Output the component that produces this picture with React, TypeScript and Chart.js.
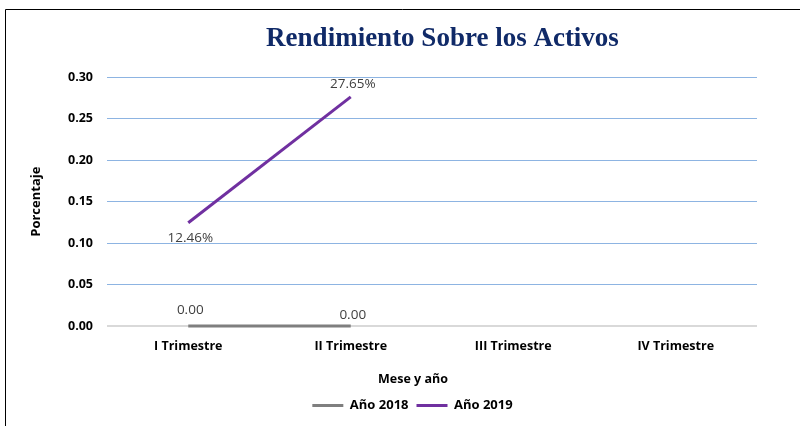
import React, { useEffect, useRef } from "react";
import { Chart, registerables } from "chart.js";

Chart.register(...registerables);

const categories = ["I Trimestre", "II Trimestre", "III Trimestre", "IV Trimestre"];
const values2018: (number | null)[] = [0, 0, null, null];
const values2019: (number | null)[] = [0.1246, 0.2765, null, null];
const labels2018 = ["0.00", "0.00"];
const labels2019 = ["12.46%", "27.65%"];
const yTicks = [0, 0.05, 0.1, 0.15, 0.2, 0.25, 0.3];

const FONT = "'Open Sans', 'DejaVu Sans', sans-serif";
const X_TITLE = "Mese y año";

const labelOffsets: number[][] = [
  [-16, -11],
  [15, -13],
];

const dataLabelPlugin = {
  id: "dataLabels",
  afterDatasetsDraw(chart: any) {
    const ctx = chart.ctx;
    const texts = [labels2018, labels2019];
    ctx.save();
    ctx.font = `13.5px ${FONT}`;
    ctx.fillStyle = "#404040";
    ctx.textAlign = "center";
    ctx.textBaseline = "middle";
    chart.data.datasets.forEach((ds: any, di: number) => {
      const meta = chart.getDatasetMeta(di);
      meta.data.forEach((pt: any, i: number) => {
        const t = texts[di][i];
        if (t === undefined || ds.data[i] === null) return;
        ctx.fillText(t, pt.x + 2, pt.y + labelOffsets[di][i]);
      });
    });
    ctx.restore();
  },
};

const framePlugin = {
  id: "frame",
  beforeDraw(chart: any) {
    const ctx = chart.ctx;
    ctx.save();
    ctx.fillStyle = "#ffffff";
    ctx.fillRect(0, 0, chart.width, chart.height);
    ctx.strokeStyle = "#000000";
    ctx.lineWidth = 1;
    ctx.beginPath();
    ctx.moveTo(5.5, chart.height);
    ctx.lineTo(5.5, 9.5);
    ctx.lineTo(chart.width, 9.5);
    ctx.stroke();
    ctx.restore();
  },
  afterLayout(chart: any) {
    if (chart.titleBlock) {
      chart.titleBlock.left += 50;
      chart.titleBlock.right += 50;
    }
    if (chart.legend) {
      chart.legend.left += 20;
      chart.legend.right += 20;
    }
  },
  afterDraw(chart: any) {
    const ctx = chart.ctx;
    const xs = chart.scales.x;
    ctx.save();
    ctx.font = `bold 12.5px ${FONT}`;
    ctx.fillStyle = "#000000";
    ctx.textAlign = "center";
    ctx.textBaseline = "middle";
    ctx.fillText(X_TITLE, (xs.left + xs.right) / 2 - 19, xs.top + 53);
    ctx.restore();
  },
};

export default function App() {
  const ref = useRef<HTMLCanvasElement>(null);
  useEffect(() => {
    if (!ref.current) return;
    const chart = new Chart(ref.current, {
      type: "line",
      data: {
        labels: categories,
        datasets: [
          {
            label: "Año 2018",
            data: values2018,
            borderColor: "#7f7f7f",
            backgroundColor: "#7f7f7f",
            borderWidth: 3,
            pointRadius: 0,
            tension: 0,
            clip: 6,
          },
          {
            label: "Año 2019",
            data: values2019,
            borderColor: "#7030a0",
            backgroundColor: "#7030a0",
            borderWidth: 3,
            pointRadius: 0,
            tension: 0,
            clip: 6,
          },
        ],
      },
      options: {
        animation: false,
        responsive: false,
        layout: { padding: { left: 28, right: 43, top: 14, bottom: 4 } },
        plugins: {
          title: {
            display: true,
            text: "Rendimiento Sobre los Activos",
            color: "#102a68",
            font: { family: "'Liberation Serif', serif", size: 27, weight: "bold" },
            padding: { top: 9, bottom: 22 },
          },
          legend: {
            position: "bottom",
            labels: {
              usePointStyle: true,
              pointStyle: "line",
              pointStyleWidth: 31,
              boxWidth: 31,
              padding: 8,
              color: "#000000",
              font: { family: FONT, size: 13, weight: "bold" },
            },
          },
          tooltip: { enabled: false },
        },
        scales: {
          x: {
            offset: true,
            afterFit(scale: any) {
              scale.height = 65;
            },
            grid: { display: false, drawTicks: false },
            border: { display: false },
            ticks: {
              color: "#000000",
              padding: 13,
              font: { family: FONT, size: 12.5, weight: "bold" },
            },
          },
          y: {
            min: 0,
            max: 0.3,
            afterBuildTicks(scale: any) {
              scale.ticks = yTicks.map((v) => ({ value: v }));
            },
            afterFit(scale: any) {
              scale.width = 79;
            },
            grid: {
              drawTicks: false,
              color: (c: any) => (c.tick && c.tick.value === 0 ? "#d9d9d9" : "#8db4e2"),
              lineWidth: (c: any) => (c.tick && c.tick.value === 0 ? 2 : 1),
            },
            border: { display: false },
            ticks: {
              color: "#000000",
              padding: 14,
              font: { family: FONT, size: 12.5, weight: "bold" },
              callback: (v: any) => Number(v).toFixed(2),
            },
            title: {
              display: true,
              text: "Porcentaje",
              color: "#000000",
              font: { family: FONT, size: 13, weight: "bold" },
              padding: { top: 0, bottom: 0 },
            },
          },
        },
      },
      plugins: [framePlugin, dataLabelPlugin],
    });
    return () => chart.destroy();
  }, []);
  return (
    <div style={{ position: "absolute", left: 0, top: 0, width: 800, height: 426 }}>
      <canvas ref={ref} width={800} height={426} style={{ width: 800, height: 426 }} />
    </div>
  );
}
